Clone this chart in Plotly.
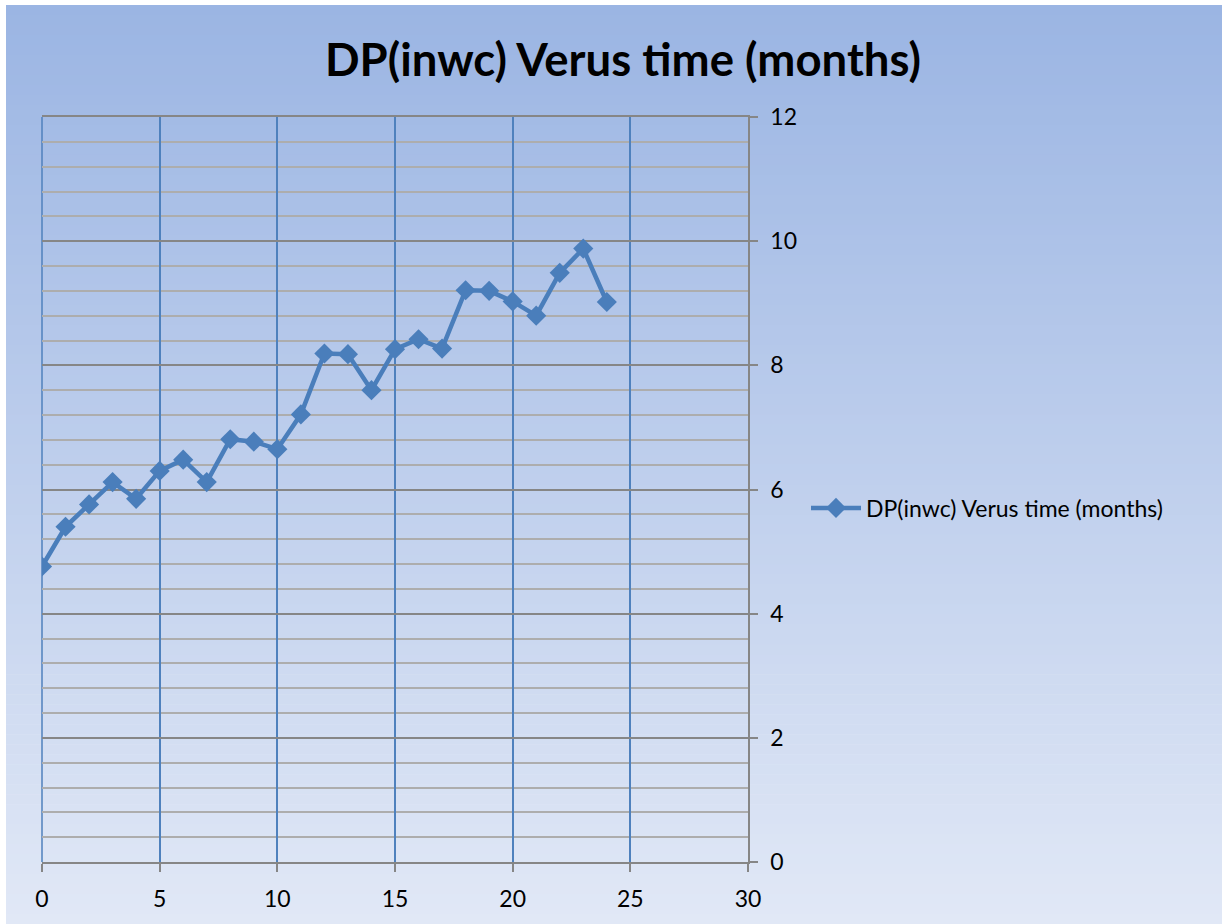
import plotly.graph_objects as go

months = list(range(0, 25))
dp_inwc = [4.76, 5.40, 5.76, 6.12, 5.85, 6.30, 6.48, 6.12, 6.81, 6.77,
           6.65, 7.21, 8.19, 8.18, 7.60, 8.26, 8.42, 8.27, 9.21, 9.20,
           9.03, 8.80, 9.49, 9.88, 9.02]
series_name = "DP(inwc) Verus time (months)"
chart_title = "DP(inwc) Verus time (months)"
x_ticks = [0, 5, 10, 15, 20, 25, 30]
y_ticks = [0, 2, 4, 6, 8, 10, 12]

W, H = 1222, 924
ML, MR, MT, MB = 42, 474, 117, 62
PW = W - ML - MR
PH = H - MT - MB

fig = go.Figure()
fig.add_trace(go.Scatter(
    x=months, y=dp_inwc, mode="lines+markers", name=series_name,
    line=dict(color="#4a7ebb", width=4.5),
    marker=dict(symbol="diamond", size=15.5, color="#4a7ebb"),
    showlegend=True,
))


def px2paper_x(px):
    return (px - ML) / PW


def px2paper_y(py):
    return (H - MB - py) / PH


# background gradient as strips (paper coordinates)
top_c = (155, 181, 227)
bot_c = (225, 232, 246)
n = 92
y_start, y_end = 5, H
x_start, x_end = 6, W
shapes = []
for i in range(n):
    t = i / (n - 1)
    c = tuple(round(top_c[k] + (bot_c[k] - top_c[k]) * t) for k in range(3))
    y0 = y_start + (y_end - y_start) * i / n
    y1 = y_start + (y_end - y_start) * (i + 1) / n + 0.6
    shapes.append(dict(type="rect", xref="paper", yref="paper", layer="below",
                       x0=px2paper_x(x_start), x1=px2paper_x(x_end + 2),
                       y0=px2paper_y(y1), y1=px2paper_y(y0),
                       line=dict(width=0), fillcolor="rgb(%d,%d,%d)" % c))

# left-edge vertical gridline (plotly skips grid at the range edge)
shapes.append(dict(type="line", xref="paper", yref="paper", layer="between",
                   x0=0, x1=0, y0=0, y1=1,
                   line=dict(color="#4f81bd", width=1.5)))

fig.update_layout(
    width=W, height=H,
    margin=dict(l=ML, r=MR, t=MT, b=MB, pad=0),
    paper_bgcolor="white",
    plot_bgcolor="rgba(0,0,0,0)",
    shapes=shapes,
    font=dict(family="Lato, Carlito, Calibri, sans-serif", color="black"),
    title=dict(text="<b>" + chart_title + "</b>", x=0.5098, xref="container",
               y=1 - 60 / H, yref="container", xanchor="center", yanchor="middle",
               font=dict(size=45.5, family="Lato, Carlito, Calibri, sans-serif", color="black")),
    legend=dict(x=px2paper_x(806), y=px2paper_y(508), xanchor="left", yanchor="middle",
                bgcolor="rgba(0,0,0,0)", borderwidth=0,
                font=dict(size=23, color="black"), itemwidth=50),
    xaxis=dict(range=[0, 30], tickmode="array", tickvals=x_ticks,
               showgrid=True, gridcolor="#4f81bd", gridwidth=1.5,
               showline=True, linecolor="#868686", linewidth=1.5, mirror=True,
               ticks="outside", ticklen=8, tickcolor="#868686", tickwidth=1.5,
               tickfont=dict(size=23, color="black"), zeroline=False,
               ticklabelstandoff=8, fixedrange=True),
    yaxis=dict(range=[0, 12], side="right", tickmode="array", tickvals=y_ticks,
               showgrid=True, gridcolor="#868686", gridwidth=1.5,
               minor=dict(dtick=0.4, showgrid=True, gridcolor="#adadad", gridwidth=1.5),
               showline=True, linecolor="#868686", linewidth=1.5,
               ticks="outside", ticklen=8, tickcolor="#868686", tickwidth=1.5,
               tickfont=dict(size=23, color="black"), zeroline=False,
               ticklabelstandoff=8, fixedrange=True),
)

fig.write_html("out.html", config={"displayModeBar": False},
               post_script="document.body.style.margin='0';document.body.style.padding='0';")
